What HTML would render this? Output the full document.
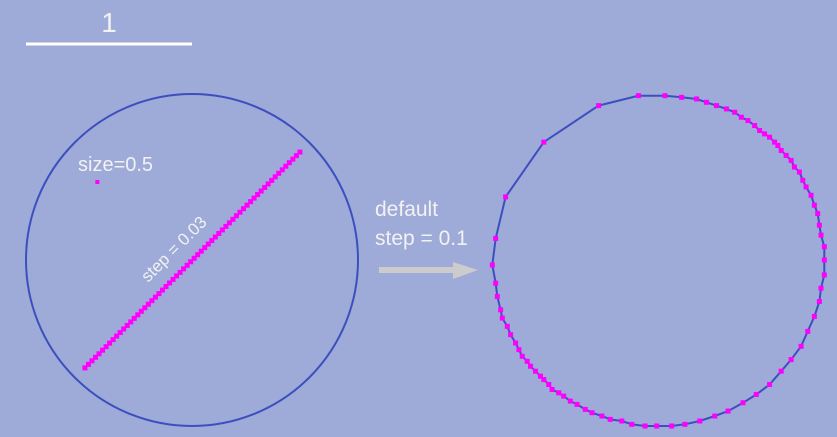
<!DOCTYPE html>
<html><head><meta charset="utf-8">
<style>
html,body{margin:0;padding:0;background:#9eaad7;}
svg{display:block;}
text{font-family:"Liberation Sans",sans-serif;fill:#f2f2f2;}
</style></head>
<body>
<svg id="c" width="837" height="437" viewBox="0 0 837 437">
<rect x="0" y="0" width="837" height="437" fill="#9eaad7"/>
<line x1="26" y1="44" x2="192" y2="44" stroke="#ffffff" stroke-width="3"/>
<text x="109" y="32" font-size="28" text-anchor="middle">1</text>
<text x="78" y="171" font-size="20">size=0.5</text>
<text x="0" y="0" font-size="17" transform="translate(148,283) rotate(-45)">step = 0.03</text>
<text x="375" y="216" font-size="21">default</text>
<text x="375" y="245" font-size="21">step = 0.1</text>
<rect x="379" y="267" width="76" height="6" fill="#cccccc"/>
<polygon points="453,262 478,270 453,279" fill="#cccccc"/>
<g id="left"></g>
<g id="right"></g>
</svg>
<script>
// data (in data units, radius = 1)
const leftCenter = [192, 260];
const rightCenter = [660, 260];
const unitPx = 166;
const diagStart = [-0.645, -0.65];
const diagEnd = [0.65, 0.65];
const diagStep = [0.03];
const singlePoint = [-0.57, 0.47];
const ringX = [-0.13,0.03,0.13,0.22,0.28,0.34,0.40,0.45,0.49,0.53,0.57,0.60,0.63,0.66,0.69,0.71,0.73,0.76,0.79,0.81,0.84,0.86,0.88,0.91,0.93,0.95,0.96,0.97,0.99,0.99,0.99,0.97,0.96,0.93,0.89,0.85,0.79,0.73,0.66,0.58,0.50,0.41,0.33,0.24,0.15,0.07,-0.02,-0.09,-0.17,-0.23,-0.30,-0.35,-0.41,-0.45,-0.50,-0.54,-0.58,-0.61,-0.65,-0.67,-0.70,-0.72,-0.75,-0.78,-0.80,-0.83,-0.85,-0.87,-0.90,-0.92,-0.95,-0.96,-0.98,-0.99,-1.01,-0.99,-0.93,-0.70,-0.37];
const ringY = [0.99,0.99,0.98,0.97,0.95,0.93,0.91,0.89,0.86,0.84,0.81,0.78,0.76,0.74,0.71,0.69,0.66,0.63,0.60,0.56,0.53,0.48,0.44,0.39,0.33,0.28,0.21,0.15,0.08,0.00,-0.09,-0.17,-0.25,-0.34,-0.43,-0.52,-0.60,-0.67,-0.75,-0.81,-0.86,-0.91,-0.94,-0.97,-0.99,-1.00,-1.00,-1.00,-0.99,-0.97,-0.96,-0.94,-0.92,-0.90,-0.87,-0.85,-0.82,-0.80,-0.78,-0.75,-0.72,-0.70,-0.67,-0.64,-0.61,-0.58,-0.54,-0.50,-0.45,-0.40,-0.35,-0.30,-0.22,-0.14,-0.03,0.13,0.38,0.71,0.93];

const NS = "http://www.w3.org/2000/svg";
function sx(c, v){ return c[0] + v*unitPx; }
function sy(c, v){ return c[1] - v*unitPx; }
const L = document.getElementById('left');
const R = document.getElementById('right');

const lc = document.createElementNS(NS,'circle');
lc.setAttribute('cx', leftCenter[0]); lc.setAttribute('cy', leftCenter[1]);
lc.setAttribute('r', unitPx); lc.setAttribute('fill','none');
lc.setAttribute('stroke','#3d4fbf'); lc.setAttribute('stroke-width','2');


L.appendChild(lc);

const dx = diagEnd[0]-diagStart[0], dy = diagEnd[1]-diagStart[1];
const n = Math.round(Math.sqrt(dx*dx+dy*dy)/diagStep[0]);
for (let i=0;i<=n;i++){
  const t = i/n;
  const x = diagStart[0] + dx*t;
  const y = diagStart[1] + dy*t;
  const r = document.createElementNS(NS,'rect');
  r.setAttribute('x', sx(leftCenter,x)-2.5); r.setAttribute('y', sy(leftCenter,y)-2.5);
  r.setAttribute('width',5); r.setAttribute('height',5); r.setAttribute('fill','#ff00ff');
  
  
  L.appendChild(r);
}
const sp = document.createElementNS(NS,'rect');
sp.setAttribute('x', sx(leftCenter,singlePoint[0])-2); sp.setAttribute('y', sy(leftCenter,singlePoint[1])-2);
sp.setAttribute('width',4); sp.setAttribute('height',4); sp.setAttribute('fill','#ff00ff');


L.appendChild(sp);

const pts = ringX.map((x,i)=> sx(rightCenter,x).toFixed(1)+','+sy(rightCenter,ringY[i]).toFixed(1));
const pg = document.createElementNS(NS,'polygon');
pg.setAttribute('points', pts.join(' '));
pg.setAttribute('fill','none'); pg.setAttribute('stroke','#3d4fbf'); pg.setAttribute('stroke-width','2');


R.appendChild(pg);
ringX.forEach((x,i)=>{
  const r = document.createElementNS(NS,'rect');
  r.setAttribute('x', sx(rightCenter,x)-2.5); r.setAttribute('y', sy(rightCenter,ringY[i])-2.5);
  r.setAttribute('width',5); r.setAttribute('height',5); r.setAttribute('fill','#ff00ff');
  
  
  R.appendChild(r);
});
</script>
</body></html>
